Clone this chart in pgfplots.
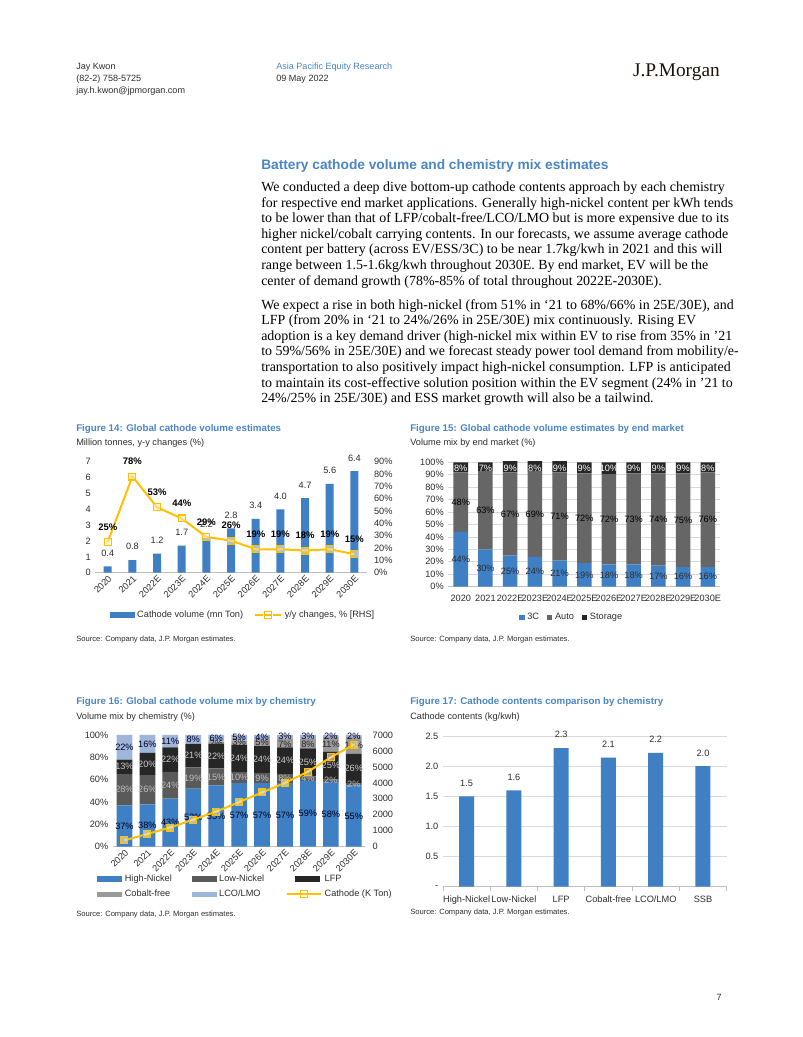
\documentclass[border=0pt]{standalone}
\usepackage{fontspec}
\setmainfont{Liberation Serif}
\setsansfont{Liberation Sans}
\usepackage{pgfplots}
\usepackage{pgfplotstable}
\pgfplotsset{compat=1.18}
\definecolor{jpblue}{HTML}{4A86C5}
\definecolor{barblue}{HTML}{3F7FC4}
\definecolor{gold}{HTML}{FFC000}
\definecolor{autogray}{HTML}{666666}
\definecolor{stor}{HTML}{262626}
\definecolor{lngray}{HTML}{5A5A5A}
\definecolor{cfgray}{HTML}{9A9A9A}
\definecolor{lcoblue}{HTML}{9EB6DA}
\definecolor{gridc}{HTML}{D9D9D9}
\definecolor{axc}{HTML}{BFBFBF}
\definecolor{txt}{HTML}{2E2E2E}
\newcommand\fs[1]{\fontsize{#1}{#1}\selectfont}
\newcommand\AT[2]{at={({#1*0.75pt},{-#2*0.75pt})}}

\pgfplotstableread{
x v g
0 0.4 25
1 0.8 78
2 1.2 53
3 1.7 44
4 2.2 29
5 2.8 26
6 3.4 19
7 4.0 19
8 4.7 18
9 5.6 19
10 6.4 15
}\vol

\pgfplotstableread{
x a b c
0 44 48 8
1 30 63 7
2 25 67 9
3 24 69 8
4 21 71 9
5 19 72 9
6 18 72 10
7 18 73 9
8 17 74 9
9 16 75 9
10 16 76 8
}\mkt

\pgfplotstableread{
x hn ln lfp cf lco
0 37 28 13 0 22
1 38 26 20 0 16
2 43 24 22 0 11
3 52 19 21 0 8
4 55 15 22 2 6
5 57 10 24 4 5
6 57 9 24 6 4
7 57 8 24 8 3
8 59 4 25 9 3
9 58 2 25 13 2
10 55 2 26 15 2
}\chem

\pgfplotstableread{
x v
0 1.5
1 1.6
2 2.3
3 2.14
4 2.22
5 2.0
}\cont

\pgfplotsset{
  jpm/.style={
    scale only axis,
    anchor=south west,
    font=\sffamily\fs{6.9},
    /pgf/number format/assume math mode=true,
    /pgf/number format/1000 sep={},
    tick label style={font=\sffamily\fs{6.9}, text=txt},
    axis line style={axc, line width=0.6pt},
    major tick length=0pt,
    clip=false,
  },
  yrs/.style={xtick={0,...,10},
    xticklabels={2020,2021,2022E,2023E,2024E,2025E,2026E,2027E,2028E,2029E,2030E}},
  goldleg/.style={legend image code/.code={%
    \draw[mark repeat=2, mark phase=2, ##1] plot coordinates {(0pt,0pt) (6.9pt,0pt) (13.8pt,0pt)};}},
}

\begin{document}
\begin{tikzpicture}
\begin{scope}[x=0.75pt,y=-0.75pt]
\fill[white] (0,0) rectangle (802,1037);
% header
\node[anchor=base west, inner sep=0, font=\sffamily\fs{6.8}, text=txt] at (76,70) {Jay Kwon};
\node[anchor=base west, inner sep=0, font=\sffamily\fs{6.8}, text=txt] at (76,82) {(82-2) 758-5725};
\node[anchor=base west, inner sep=0, font=\sffamily\fs{6.8}, text=txt] at (76,94) {jay.h.kwon@jpmorgan.com};
\node[anchor=base west, inner sep=0, font=\sffamily\fs{6.8}, text=jpblue] at (276,70) {Asia Pacific Equity Research};
\node[anchor=base west, inner sep=0, font=\sffamily\fs{6.8}, text=txt] at (276,82) {09 May 2022};
\node[anchor=base east, inner sep=0, font=\rmfamily\fs{14.5}, text={black!85!brown}] at (720,77) {J.P.Morgan};
% heading and body
\node[anchor=base west, inner sep=0, font=\sffamily\bfseries\fs{10.3}, text=jpblue] at (261,170) {Battery cathode volume and chemistry mix estimates};
\begin{scope}[every node/.style={anchor=base west, inner sep=0, font=\rmfamily\fs{10.45}, text=black}]
\node at (261,191.5) {We conducted a deep dive bottom-up cathode contents approach by each chemistry};
\node at (261,207.1) {for respective end market applications. Generally high-nickel content per kWh tends};
\node at (261,222.7) {to be lower than that of LFP/cobalt-free/LCO/LMO but is more expensive due to its};
\node at (261,238.3) {higher nickel/cobalt carrying contents. In our forecasts, we assume average cathode};
\node at (261,253.9) {content per battery (across EV/ESS/3C) to be near 1.7kg/kwh in 2021 and this will};
\node at (261,269.5) {range between 1.5-1.6kg/kwh throughout 2030E. By end market, EV will be the};
\node at (261,285.1) {center of demand growth (78\%-85\% of total throughout 2022E-2030E).};
\node at (261,309.0) {We expect a rise in both high-nickel (from 51\% in ‘21 to 68\%/66\% in 25E/30E), and};
\node at (261,324.6) {LFP (from 20\% in ‘21 to 24\%/26\% in 25E/30E) mix continuously. Rising EV};
\node at (261,340.2) {adoption is a key demand driver (high-nickel mix within EV to rise from 35\% in ’21};
\node at (261,355.8) {to 59\%/56\% in 25E/30E) and we forecast steady power tool demand from mobility/e-};
\node at (261,371.4) {transportation to also positively impact high-nickel consumption. LFP is anticipated};
\node at (261,387.0) {to maintain its cost-effective solution position within the EV segment (24\% in ’21 to};
\node at (261,402.6) {24\%/25\% in 25E/30E) and ESS market growth will also be a tailwind.};
\end{scope}
% figure titles
\begin{scope}[every node/.style={anchor=west, inner sep=0}]
\node[font=\sffamily\bfseries\fs{7.3}, text=jpblue] at (76,429) {Figure 14: Global cathode volume estimates};
\node[font=\sffamily\fs{6.9}, text=txt] at (76,443) {Million tonnes, y-y changes (\%)};
\node[font=\sffamily\fs{5.7}, text=txt] at (76,640) {Source: Company data, J.P. Morgan estimates.};
\node[font=\sffamily\bfseries\fs{7.3}, text=jpblue] at (410,429) {Figure 15: Global cathode volume estimates by end market};
\node[font=\sffamily\fs{6.9}, text=txt] at (410,443) {Volume mix by end market (\%)};
\node[font=\sffamily\fs{5.7}, text=txt] at (410,640) {Source: Company data, J.P. Morgan estimates.};
\node[font=\sffamily\bfseries\fs{7.3}, text=jpblue] at (76,702) {Figure 16: Global cathode volume mix by chemistry};
\node[font=\sffamily\fs{6.9}, text=txt] at (76,717) {Volume mix by chemistry (\%)};
\node[font=\sffamily\fs{5.7}, text=txt] at (76,915) {Source: Company data, J.P. Morgan estimates.};
\node[font=\sffamily\bfseries\fs{7.3}, text=jpblue] at (410,702) {Figure 17: Cathode contents comparison by chemistry};
\node[font=\sffamily\fs{6.9}, text=txt] at (410,717) {Cathode contents (kg/kwh)};
\node[font=\sffamily\fs{5.7}, text=txt] at (410,913) {Source: Company data, J.P. Morgan estimates.};
\end{scope}
\node[anchor=base east, inner sep=0, font=\sffamily\fs{6.8}, text=txt] at (722,1000) {7};
\end{scope}

% ================= Figure 14
\begin{axis}[jpm, \AT{95.4}{572.7}, width=203.5pt, height=83.25pt,
  xmin=-0.5, xmax=10.5, ymin=0, ymax=7, ytick={0,1,...,7},
  axis x line*=bottom, axis y line*=left, y axis line style={draw=none},
  yrs, xticklabel style={rotate=45, anchor=north east, inner sep=1pt},
  ybar, bar width=6pt,
  legend style={at={(0.545,-0.381)}, anchor=center, draw=none, fill=none, legend columns=2,
    font=\sffamily\fs{6.9}, text=txt, /tikz/every even column/.append style={column sep=6pt}},
]
\addplot[fill=barblue, draw=none, nodes near coords,
  nodes near coords style={font=\sffamily\fs{6.9}, text=txt, yshift=4pt,
    /pgf/number format/fixed, /pgf/number format/fixed zerofill, /pgf/number format/precision=1},
  legend image code/.code={\fill[barblue] (0pt,-2pt) rectangle (18.75pt,2pt);}]
  table[x=x,y=v] \vol;
\addlegendentry{Cathode volume (mn Ton)}
\addlegendimage{goldleg, gold, line width=1.5pt, mark=square, mark size=2.5pt, mark options={line width=0.8pt, fill=gold!30}}
\addlegendentry{y/y changes, \% [RHS]}
\end{axis}
\begin{axis}[jpm, \AT{95.4}{572.7}, width=203.5pt, height=83.25pt,
  xmin=-0.5, xmax=10.5, ymin=0, ymax=90, ytick={0,10,...,90},
  yticklabel={\pgfmathprintnumber{\tick}\%},
  yticklabel style={xshift=2pt},
  axis y line*=right, y axis line style={draw=none}, hide x axis]
\addplot[gold, line width=1.5pt, mark=square*, mark size=2.6pt,
  mark options={line width=0.8pt, fill=gold!30, fill opacity=0.6},
  nodes near coords={\pgfmathprintnumber{\pgfplotspointmeta}\%},
  nodes near coords style={font=\sffamily\bfseries\fs{7.1}, text=black, yshift=5pt, fill opacity=1}]
  table[x=x,y=g] \vol;
\end{axis}

% ================= Figure 15
\begin{axis}[jpm, \AT{448.4}{586.7}, width=203.8pt, height=93.3pt,
  xmin=-0.5, xmax=10.5, ymin=0, ymax=100, ytick={0,10,...,100},
  yticklabel={\pgfmathprintnumber{\tick}\%},
  ymajorgrids, grid style={gridc, line width=0.5pt},
  axis x line*=bottom, axis y line*=left, y axis line style={draw=none},
  yrs, xticklabel style={inner sep=1pt, yshift=-5pt},
  ybar stacked, bar width=10.9pt,
  legend style={at={(0.455,-0.245)}, anchor=center, draw=none, fill=none, legend columns=3,
    font=\sffamily\fs{6.9}, text=txt, /tikz/every even column/.append style={column sep=4pt}},
  legend image code/.code={\draw[#1,draw=none] (0pt,-2pt) rectangle (4pt,2pt);},
]
\addplot[fill=barblue, draw=none] table[x=x,y=a] \mkt; \addlegendentry{3C}
\addplot[fill=autogray, draw=none] table[x=x,y=b] \mkt; \addlegendentry{Auto}
\addplot[fill=stor, draw=none] table[x=x,y=c] \mkt; \addlegendentry{Storage}
\end{axis}
\begin{axis}[jpm, \AT{448.4}{586.7}, width=203.8pt, height=93.3pt,
  xmin=-0.5, xmax=10.5, ymin=0, ymax=100, hide axis]
\addplot[draw=none, nodes near coords={\pgfmathprintnumber{\pgfplotspointmeta}\%}, point meta=explicit,
  nodes near coords style={anchor=center, font=\sffamily\fs{6.9}, text=txt}]
  table[x=x,y=y,meta=m] {
x y m
0 22 44
1 15 30
2 12.5 25
3 12 24
4 10.5 21
5 9.5 19
6 9 18
7 9 18
8 8.5 17
9 8 16
10 8 16
};
\addplot[draw=none, nodes near coords={\pgfmathprintnumber{\pgfplotspointmeta}\%}, point meta=explicit,
  nodes near coords style={anchor=center, font=\sffamily\fs{6.9}, text=black}]
  table[x=x,y=y,meta=m] {
x y m
0 68 48
1 61.5 63
2 58.5 67
3 58.5 69
4 56.5 71
5 55 72
6 54 72
7 54.5 73
8 54 74
9 53.5 75
10 54 76
};
\addplot[draw=none, nodes near coords={\pgfmathprintnumber{\pgfplotspointmeta}\%}, point meta=explicit,
  nodes near coords style={anchor=center, font=\sffamily\fs{6.9}, text=white}]
  table[x=x,y=y,meta=m] {
x y m
0 95.5 8
1 95.5 7
2 95.5 9
3 95.5 8
4 95.5 9
5 95.5 9
6 95.5 10
7 95.5 9
8 95.5 9
9 95.5 9
10 95.5 8
};
\end{axis}

% ================= Figure 16
\begin{axis}[jpm, \AT{113}{846.7}, width=189.2pt, height=83.8pt,
  xmin=-0.5, xmax=10.5, ymin=0, ymax=100, ytick={0,20,...,100},
  yticklabel={\pgfmathprintnumber{\tick}\%},
  axis x line*=bottom, axis y line*=left, y axis line style={draw=none},
  yrs, xticklabel style={rotate=45, anchor=north east, inner sep=1pt},
  ybar stacked, bar width=11.8pt,
  legend style={at={(0.515,-0.357)}, anchor=center, draw=none, fill=none, legend columns=3,
    font=\sffamily\fs{6.9}, text=txt, row sep=1pt, /tikz/every even column/.append style={column sep=2pt}},
  legend image code/.code={\draw[#1,draw=none] (0pt,-2pt) rectangle (18.75pt,2pt);},
]
\addplot[fill=barblue, draw=none] table[x=x,y=hn] \chem; \addlegendentry{\makebox[46pt][l]{High-Nickel}}
\addplot[fill=lngray, draw=none] table[x=x,y=ln] \chem; \addlegendentry{\makebox[46pt][l]{Low-Nickel}}
\addplot[fill=stor, draw=none] table[x=x,y=lfp] \chem; \addlegendentry{\makebox[46pt][l]{LFP}}
\addplot[fill=cfgray, draw=none] table[x=x,y=cf] \chem; \addlegendentry{\makebox[46pt][l]{Cobalt-free}}
\addplot[fill=lcoblue, draw=none] table[x=x,y=lco] \chem; \addlegendentry{\makebox[46pt][l]{LCO/LMO}}
\addlegendimage{goldleg, gold, line width=1.5pt, mark=square, mark size=2.5pt, mark options={line width=0.8pt, fill=gold!30}}
\addlegendentry{\makebox[46pt][l]{Cathode (K Ton)}}
\end{axis}
\begin{axis}[jpm, \AT{113}{846.7}, width=189.2pt, height=83.8pt,
  xmin=-0.5, xmax=10.5, ymin=0, ymax=100, hide axis,
  lab/.style={draw=none, nodes near coords={\pgfmathprintnumber{\pgfplotspointmeta}\%}, point meta=explicit,
    nodes near coords style={anchor=center, font=\sffamily\fs{6.9}, text=#1}}]
\addplot[lab={black!90!blue}] table[x=x,y=y,meta=m] {
x y m
0 18.5 37
1 19 38
2 21.5 43
3 26 52
4 27.5 55
5 28.5 57
6 28.5 57
7 28.5 57
8 29.5 59
9 29 58
10 27.5 55
};
\addplot[lab={black!25}] table[x=x,y=y,meta=m] {
x y m
0 51 28
1 51 26
2 55 24
3 61.5 19
4 62.5 15
5 62 10
6 61.5 9
7 61 8
8 61 4
9 59 2
10 56 2
};
\addplot[lab={black!20}] table[x=x,y=y,meta=m] {
x y m
0 71.5 13
1 74 20
2 78 22
3 81.5 21
4 81 22
5 79 24
6 78 24
7 77 24
8 75.5 25
9 72.5 25
10 70 26
};
\addplot[lab={black!85}] table[x=x,y=y,meta=m] {
x y m
4 92.5 2
5 93 3
6 93 5
7 92 7
8 91.5 8
9 91.5 11
10 90.5 13
};
\addplot[lab={black!85!blue}] table[x=x,y=y,meta=m] {
x y m
0 89 22
1 92 16
2 94.5 11
3 96 8
4 97 6
5 97.5 5
6 98 4
7 98.5 3
8 98.5 3
9 99 2
10 99 2
};
\end{axis}
\begin{axis}[jpm, \AT{113}{846.7}, width=189.2pt, height=83.8pt,
  xmin=-0.5, xmax=10.5, ymin=0, ymax=7000, ytick={0,1000,...,7000},
  yticklabel style={xshift=2pt},
  axis y line*=right, y axis line style={draw=none}, hide x axis]
\addplot[gold, line width=1.5pt, mark=square*, mark size=2.6pt, mark options={line width=0.8pt, fill=gold!30, fill opacity=0.6}]
  table[x=x,y expr=\thisrow{v}*1000] \vol;
\end{axis}

% ================= Figure 17
\begin{axis}[jpm, \AT{443}{886.7}, width=212.7pt, height=113pt,
  xmin=-0.5, xmax=5.5, ymin=0, ymax=2.5, ytick={0,0.5,...,2.5},
  yticklabels={-,0.5,1.0,1.5,2.0,2.5},
  ymajorgrids, grid style={gridc, line width=0.5pt},
  axis x line*=bottom, axis y line*=left, y axis line style={draw=none},
  xtick={0,...,5}, xticklabels={High-Nickel,Low-Nickel,LFP,Cobalt-free,LCO/LMO,SSB},
  xticklabel style={inner sep=1pt, yshift=-6pt},
  minor xtick={-0.5,0.5,...,5.5}, minor tick length=3pt, tick align=outside,
  minor tick style={axc, line width=0.6pt},
  ybar, bar width=11.25pt,
]
\addplot[fill=barblue, draw=none, nodes near coords,
  nodes near coords style={font=\sffamily\fs{6.9}, text=txt, yshift=4pt,
    /pgf/number format/fixed, /pgf/number format/fixed zerofill, /pgf/number format/precision=1}]
  table[x=x,y=v] \cont;
\end{axis}
\end{tikzpicture}
\end{document}
